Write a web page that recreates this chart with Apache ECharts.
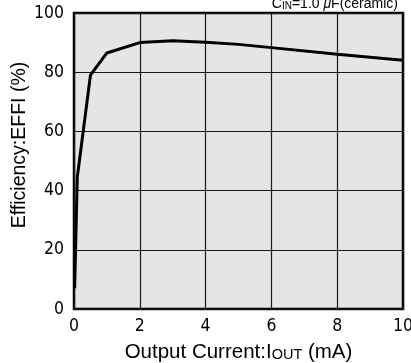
<!DOCTYPE html>
<html><head><meta charset="utf-8">
<script src="https://cdn.jsdelivr.net/npm/echarts@6/dist/echarts.min.js"></script>
<style>html,body{margin:0;padding:0;background:#fff}#c{width:411px;height:363px}</style>
</head><body><div id="c"></div>
<script>
const currentMA = [0.02, 0.1, 0.5, 1, 2, 3, 4, 5, 6, 8, 10];
const efficiency = [7, 44.5, 79, 86.5, 90, 90.6, 90.1, 89.4, 88.3, 86.1, 84];
const xTicks = [0, 2, 4, 6, 8, 10];
const yTicks = [0, 20, 40, 60, 80, 100];

const chart = echarts.init(document.getElementById('c'), null, {renderer: 'canvas'});
const font = 'Liberation Sans, Arial, sans-serif';
const narrow = '"Liberation Sans Narrow", "DejaVu Sans Condensed", Liberation Sans, sans-serif';
chart.setOption({
  animation: false,
  backgroundColor: '#fff',
  title: {
    right: 8, top: -8,
    text: '{a|C}{s|IN}{a|=1.0 }{m|μ}{a|F(ceramic)}',
    textStyle: {
      fontWeight: 'normal',
      rich: {
        a: {fontFamily: font, fontSize: 14, color: '#000', fontWeight: 'normal'},
        m: {fontFamily: font, fontSize: 14, color: '#000', fontStyle: 'italic', fontWeight: 'normal'},
        s: {fontFamily: font, fontSize: 10, color: '#000', fontWeight: 'normal', verticalAlign: 'bottom'}
      }
    }
  },
  grid: {
    left: 74, right: 8, top: 13, bottom: 54,
    outerBoundsMode: 'none', containLabel: false,
    show: true, backgroundColor: '#e5e5e5', borderColor: '#000', borderWidth: 2.5
  },
  xAxis: {
    type: 'value', min: xTicks[0], max: xTicks[xTicks.length - 1], interval: 2,
    name: '{a|Output Current:I}{s|OUT}{a| (mA)}',
    nameLocation: 'middle', nameGap: 33, nameMoveOverlap: false,
    nameTextStyle: {
      rich: {
        a: {fontFamily: font, fontSize: 20.5, color: '#000'},
        s: {fontFamily: font, fontSize: 14.5, color: '#000', verticalAlign: 'bottom', padding: [0, 0, 1, 0]}
      }
    },
    axisLine: {show: false}, axisTick: {show: false},
    axisLabel: {fontFamily: narrow, fontSize: 17.5, color: '#000', margin: 8},
    splitLine: {show: true, lineStyle: {color: '#1a1a1a', width: 1.2}}
  },
  yAxis: {
    type: 'value', min: yTicks[0], max: yTicks[yTicks.length - 1], interval: 20,
    name: 'Efficiency:EFFI (%)',
    nameLocation: 'middle', nameGap: 44.5, nameRotate: 90, nameMoveOverlap: false,
    nameTextStyle: {fontFamily: font, fontSize: 19.5, color: '#000', padding: [0, 0, 0, 32]},
    axisLine: {show: false}, axisTick: {show: false},
    axisLabel: {fontFamily: narrow, fontSize: 17.5, color: '#000', margin: 10},
    splitLine: {show: true, lineStyle: {color: '#1a1a1a', width: 1.2}}
  },
  series: [{
    type: 'line',
    data: currentMA.map((x, i) => [x, efficiency[i]]),
    showSymbol: false, symbol: 'none',
    lineStyle: {color: '#000', width: 3},
    z: 5
  }]
});
</script></body></html>
